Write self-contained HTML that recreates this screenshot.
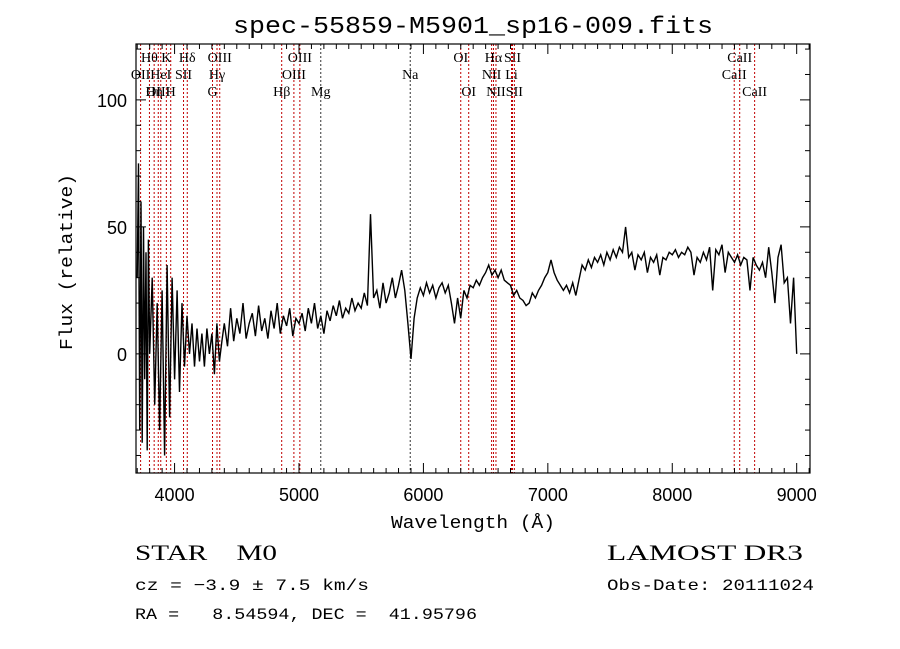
<!DOCTYPE html>
<html><head><meta charset="utf-8"><style>
body{margin:0;background:#fff}
svg{display:block}
text{white-space:pre}
.mono{font-family:"Liberation Mono","DejaVu Sans Mono",monospace}
.serif{font-family:"Liberation Serif","DejaVu Serif",serif}
</style></head><body>
<svg id="chart" width="900" height="649" viewBox="0 0 900 649" xml:space="preserve">
<rect width="900" height="649" fill="#fff"/>
<text x="473" y="33" text-anchor="middle" class="mono" font-size="24" textLength="480" lengthAdjust="spacingAndGlyphs">spec-55859-M5901_sp16-009.fits</text>
<g id="lines"></g>
<g id="ticks"></g>
<path id="spec" fill="none" stroke="#000" stroke-width="1.4" stroke-linejoin="miter"/>
<rect x="136" y="44" width="674" height="429" fill="none" stroke="#000" stroke-width="1.2"/>
<text x="473" y="528" text-anchor="middle" class="mono" font-size="18" textLength="164" lengthAdjust="spacingAndGlyphs">Wavelength (Å)</text>
<text transform="translate(72,262) rotate(-90)" text-anchor="middle" class="mono" font-size="18" textLength="176" lengthAdjust="spacingAndGlyphs">Flux (relative)</text>
<text x="135" y="560" class="serif" font-size="22" textLength="142" lengthAdjust="spacingAndGlyphs">STAR    M0</text>
<text x="607" y="560" class="serif" font-size="22" textLength="196" lengthAdjust="spacingAndGlyphs">LAMOST DR3</text>
<text x="135" y="590" class="mono" font-size="16" textLength="234" lengthAdjust="spacingAndGlyphs">cz = −3.9 ± 7.5 km/s</text>
<text x="607" y="590" class="mono" font-size="16" textLength="207" lengthAdjust="spacingAndGlyphs">Obs-Date: 20111024</text>
<text x="135" y="619" class="mono" font-size="16" textLength="342" lengthAdjust="spacingAndGlyphs">RA =   8.54594, DEC =  41.95796</text>
</svg>
<script>
const blueWaves=[3700,3710,3720,3730,3740,3750,3760,3770,3780,3790,3800,3820,3840,3860,3880,3900,3920,3940,3960,3980,4000,4020,4040,4060,4080,4100,4120,4140,4160,4180,4200,4220,4240,4260,4280,4300,4320,4340,4360,4380];
const blueFlux=[30,75,-30,60,-35,50,-10,40,-38,45,0,30,-20,20,-30,25,-40,35,-25,30,-10,25,-15,20,-5,15,0,12,-5,10,-3,8,-5,10,0,8,-8,12,-3,5];
const redFlux=[12,3,18,5,14,8,20,6,12,
16,7,19,9,14,6,17,10,20,8,15,11,18,7,14,12,
16,9,18,12,20,10,15,8,17,13,19,15,21,14,18,16,22,17,20,18,
24,19,55,
22,25,18,28,20,24,30,22,27,33,25,12,-2,
14,22,26,23,28,24,27,22,26,28,24,27,20,12,22,14,
25,22,27,26,29,27,30,32,35,31,33,30,33,29,28,27,
23,25,22,21,19,20,24,22,25,27,30,32,37,32,29,27,
25,27,24,28,23,29,35,33,37,34,38,36,39,35,40,37,
41,38,42,40,50,
38,40,33,39,37,40,32,38,36,39,31,38,37,40,39,
41,38,40,39,42,40,31,38,36,40,37,42,25,41,39,43,
32,40,38,36,39,35,38,37,25,38,35,33,36,30,42,32,
20,38,43,28,30,12,30,0];
const redStart=4400, redStep=25;
const lineWaves=[3727,3798,3836,3869,3889,3934,3969,4072,4102,4305,4341,4363,4861,4959,5007,5175,5894,6300,6364,6548,6563,6583,6708,6716,6731,8498,8542,8662];
const lineLabels=["OII","Hθ","Hη","OIII","HeI","K","H","SII","Hδ","G","Hγ","OIII","Hβ","OIII","OIII","Mg","Na","OI","OI","NII","Hα","NII","Li","SII","SII","CaII","CaII","CaII"];
const lineRows=[2,1,3,3,2,1,3,2,1,3,2,1,3,2,1,3,2,1,3,2,1,3,2,1,3,2,1,3];
const xTicks=[4000,5000,6000,7000,8000,9000];
const yTicks=[0,50,100];
const X0=136,X1=810,Y0=44,Y1=473;
const WMIN=3690,WMAX=9107,FMIN=-46.9,FMAX=122;
const xs=w=>X0+(w-WMIN)/(WMAX-WMIN)*(X1-X0);
const ys=f=>Y1-(f-FMIN)/(FMAX-FMIN)*(Y1-Y0);
const NS="http://www.w3.org/2000/svg";
function mk(tag,attrs,parent){const e=document.createElementNS(NS,tag);for(const k in attrs)e.setAttribute(k,attrs[k]);parent.appendChild(e);return e;}
const pts=[];
blueWaves.forEach((w,i)=>pts.push([w,blueFlux[i]]));
redFlux.forEach((f,i)=>pts.push([redStart+i*redStep,f]));
let d="";pts.forEach((p,i)=>{d+=(i?"L":"M")+xs(p[0]).toFixed(1)+","+ys(p[1]).toFixed(1);});
document.getElementById("spec").setAttribute("d",d);
const lg=document.getElementById("lines");
const black=["Na","Mg"];
lineWaves.forEach((w,i)=>{
  const x=xs(w);
  const l=mk("line",{x1:x,x2:x,y1:Y0,y2:Y1,stroke:black.includes(lineLabels[i])?"#333":"#c00000","stroke-width":1,"stroke-dasharray":"2,2"},lg);
  
  
  const t=mk("text",{x:x,y:45+lineRows[i]*17,"text-anchor":"middle","font-size":14,"font-family":"Liberation Serif, serif"},lg);
  t.textContent=lineLabels[i];
  
  
});
const tg=document.getElementById("ticks");
for(let w=3700;w<=9100;w+=100){
  const x=xs(w);const maj=w%1000===0;const L=maj?10:5;
  mk("line",{x1:x,x2:x,y1:Y1,y2:Y1-L,stroke:"#000"},tg);
  mk("line",{x1:x,x2:x,y1:Y0,y2:Y0+L,stroke:"#000"},tg);
}
xTicks.forEach(w=>{
  const t=mk("text",{x:xs(w),y:501,"text-anchor":"middle","font-size":18,"font-family":"Liberation Sans, sans-serif"},tg);
  t.textContent=w;
  
  
});
for(let f=-40;f<=120;f+=10){
  const y=ys(f);const maj=f%50===0;const L=maj?10:5;
  mk("line",{x1:X0,x2:X0+L,y1:y,y2:y,stroke:"#000"},tg);
  mk("line",{x1:X1,x2:X1-L,y1:y,y2:y,stroke:"#000"},tg);
}
yTicks.forEach(f=>{
  const t=mk("text",{x:127,y:ys(f)+7,"text-anchor":"end","font-size":18,"font-family":"Liberation Sans, sans-serif"},tg);
  t.textContent=f;
  
  
});
</script>
</body></html>
